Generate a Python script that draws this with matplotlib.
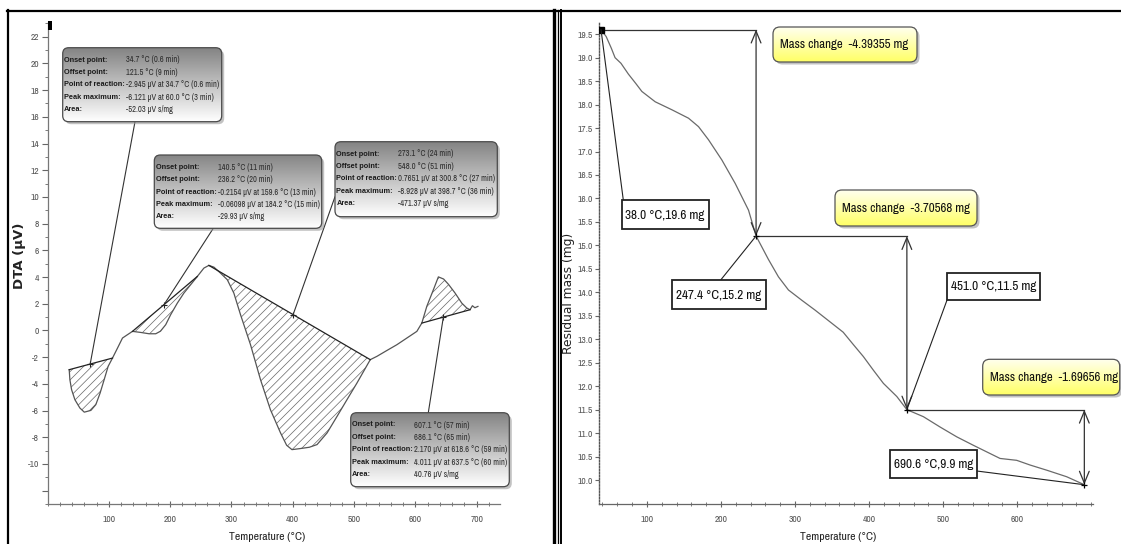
import matplotlib
matplotlib.use("Agg")

import matplotlib.pyplot as plt
import numpy as np
from matplotlib import font_manager
from matplotlib.colors import LinearSegmentedColormap
from matplotlib.lines import Line2D
from matplotlib.patches import ConnectionPatch, FancyArrowPatch, FancyBboxPatch, Rectangle
from matplotlib.ticker import FixedLocator, FormatStrFormatter, MultipleLocator

W, H = 1121, 544


def is_bold(weight):
    if isinstance(weight, str):
        return weight in ("bold", "heavy", "black", "extra bold", "semibold", "demibold")
    return weight >= 600


def narrow_font():
    # prefer a condensed face if one is installed, otherwise Liberation Sans
    fonts = font_manager.fontManager.ttflist
    for f in fonts:
        if "Narrow" in f.name or "Condensed" in f.name:
            has_bold = any(g.name == f.name and is_bold(g.weight) for g in fonts)
            return {"family": f.name}, has_bold
    for f in fonts:
        st = f.stretch
        if (isinstance(st, str) and "condensed" in st) or (isinstance(st, int) and st < 500):
            has_bold = any(g.name == f.name and g.stretch == st and is_bold(g.weight)
                           for g in fonts)
            return {"family": f.name, "stretch": st}, has_bold
    return {"family": "Liberation Sans"}, True


NARROW, narrow_has_bold = narrow_font()
NARROW_BOLD = NARROW if narrow_has_bold else {"family": "Liberation Sans"}

# ---- DTA curve (temperature in deg C, signal in uV)
dta_temp = [35.4, 36.5, 39.3, 44.7, 52.8, 60.0, 70.7, 78.8, 85.8, 92.4, 98.9, 106.0,
            114.2, 122.3, 130.4, 138.6, 152.0, 165.6, 176.5, 184.2, 192.8, 200.9, 211.8,
            222.5, 233.4, 244.3, 255.1, 263.2, 271.4, 282.0, 293.2, 303.9, 314.8, 331.1,
            347.4, 363.6, 379.9, 390.0, 398.7, 412.0, 427.0, 439.6, 455.9, 472.2, 488.4,
            504.7, 526.4, 537.3, 553.6, 569.8, 586.1, 602.4, 610.5, 618.6, 629.4, 637.5,
            646.0, 654.0, 664.7, 675.6, 683.7, 689.1, 693.0, 697.0, 702.0]
dta_signal = [-2.94, -3.69, -4.44, -5.19, -5.81, -6.121, -5.99, -5.56, -4.69, -3.69, -2.69, -2.07,
              -1.32, -0.57, -0.32, -0.07, -0.15, -0.25, -0.25, -0.061, 0.43, 1.18, 2.05,
              2.80, 3.42, 4.04, 4.67, 4.87, 4.74, 4.30, 3.80, 2.80, 1.18, -1.07,
              -3.69, -5.94, -7.66, -8.60, -8.928, -8.85, -8.75, -8.55, -7.68, -6.44, -5.19,
              -3.94, -2.19, -1.94, -1.50, -1.07, -0.57, -0.07, 0.55, 1.80, 3.05, 4.011,
              3.85, 3.45, 2.80, 2.05, 1.68, 1.55, 1.85, 1.70, 1.80]

# integration limits of the four peaks and where the leader lines touch the baseline
peak_start = [35.4, 138.6, 263.2, 610.5]
peak_end = [106.0, 244.3, 526.4, 689.1]
leader_temp = [69.6, 190.0, 400.6, 645.6]

peak_info = [
    [("Onset point:", "34.7 °C (0.6 min)"),
     ("Offset point:", "121.5 °C (9 min)"),
     ("Point of reaction:", "-2.945 µV at 34.7 °C (0.6 min)"),
     ("Peak maximum:", "-6.121 µV at 60.0 °C (3 min)"),
     ("Area:", "-52.03 µV s/mg")],
    [("Onset point:", "140.5 °C (11 min)"),
     ("Offset point:", "236.2 °C (20 min)"),
     ("Point of reaction:", "-0.2154 µV at 159.6 °C (13 min)"),
     ("Peak maximum:", "-0.06098 µV at 184.2 °C (15 min)"),
     ("Area:", "-29.93 µV s/mg")],
    [("Onset point:", "273.1 °C (24 min)"),
     ("Offset point:", "548.0 °C (51 min)"),
     ("Point of reaction:", "0.7651 µV at 300.8 °C (27 min)"),
     ("Peak maximum:", "-8.928 µV at 398.7 °C (36 min)"),
     ("Area:", "-471.37 µV s/mg")],
    [("Onset point:", "607.1 °C (57 min)"),
     ("Offset point:", "686.1 °C (65 min)"),
     ("Point of reaction:", "2.170 µV at 618.6 °C (59 min)"),
     ("Peak maximum:", "4.011 µV at 637.5 °C (60 min)"),
     ("Area:", "40.76 µV s/mg")],
]

# ---- TGA curve (temperature in deg C, residual mass in mg)
tga_temp = [38.0, 45.0, 52.0, 57.0, 65.0, 75.0, 85.0, 93.2, 111.2, 133.7, 156.2, 169.7,
            183.2, 201.2, 219.2, 237.2, 247.4, 264.1, 277.6, 291.1, 309.2, 327.1, 349.7,
            365.0, 378.0, 392.3, 405.8, 419.3, 437.4, 451.0, 473.3, 495.8, 518.4, 540.8,
            558.8, 576.8, 599.3, 617.3, 639.8, 666.8, 690.6]
tga_mass = [19.60, 19.45, 19.20, 19.00, 18.88, 18.65, 18.45, 18.28, 18.06, 17.89, 17.71, 17.53,
            17.25, 16.82, 16.32, 15.75, 15.20, 14.70, 14.33, 14.05, 13.83, 13.62, 13.34,
            13.15, 12.90, 12.63, 12.34, 12.06, 11.78, 11.50, 11.35, 11.13, 10.92, 10.74,
            10.60, 10.46, 10.42, 10.32, 10.21, 10.07, 9.90]

step_temp = [38.0, 247.4, 451.0, 690.6]
step_mass = [19.6, 15.2, 11.5, 9.9]
mass_change = [-4.39355, -3.70568, -1.69656]

fig = plt.figure(figsize=(W / 100, H / 100), dpi=100)
fig.patch.set_facecolor("white")
renderer = fig.canvas.get_renderer()


def px_axes(left, top, right, bottom):
    return fig.add_axes([left / W, 1 - bottom / H, (right - left) / W, (bottom - top) / H])


def style_ticks(ax):
    for lab in ax.get_xticklabels() + ax.get_yticklabels():
        lab.set_fontproperties(font_manager.FontProperties(size=6.8, **NARROW))
        lab.set_color("#555555")


def fit_width(texts, width):
    # shrink a group of texts together so the widest one fits the given pixel width
    widest = max(t.get_window_extent(renderer).width for t in texts)
    if widest > width:
        k = width / widest
        for t in texts:
            t.set_fontsize(t.get_fontsize() * k)


# ---------------- left: DTA ----------------
ax1 = px_axes(47.5, 22, 500, 504)
ax1.set_xlim(0, 738)
ax1.set_ylim(-13, 23.1)
for s in ("top", "right"):
    ax1.spines[s].set_visible(False)
for s in ("left", "bottom"):
    ax1.spines[s].set_color("#777777")
    ax1.spines[s].set_linewidth(0.9)

ax1.plot(dta_temp, dta_signal, color="#555555", lw=0.9, zorder=3)

plt.rcParams["hatch.linewidth"] = 0.5
plt.rcParams["hatch.color"] = "#555555"
base_at = []
for t0, t1 in zip(peak_start, peak_end):
    v0 = np.interp(t0, dta_temp, dta_signal)
    v1 = np.interp(t1, dta_temp, dta_signal)
    tt = np.linspace(t0, t1, 200)
    curve = np.interp(tt, dta_temp, dta_signal)
    base = np.interp(tt, [t0, t1], [v0, v1])
    ax1.fill_between(tt, curve, base, facecolor="none", edgecolor="#666666",
                     hatch="////", linewidth=0, zorder=2)
    ax1.plot([t0, t1], [v0, v1], color="#222222", lw=0.9, zorder=3)
    base_at.append((t0, t1, v0, v1))

leader_pts = []
for lt, (t0, t1, v0, v1) in zip(leader_temp, base_at):
    lv = np.interp(lt, [t0, t1], [v0, v1])
    leader_pts.append((lt, lv))
    ax1.plot(lt, lv, marker="+", ms=5, mew=0.8, color="#222222", zorder=4)

ax1.xaxis.set_major_locator(FixedLocator([100, 200, 300, 400, 500, 600, 700]))
ax1.xaxis.set_minor_locator(MultipleLocator(20))
ax1.yaxis.set_major_locator(FixedLocator(list(range(-12, 23, 2))))
ax1.yaxis.set_minor_locator(MultipleLocator(1))
ax1.set_yticklabels(["" if v == -12 else str(v) for v in range(-12, 23, 2)])
ax1.tick_params(axis="x", which="both", direction="inout", colors="#666666", pad=6)
ax1.tick_params(axis="x", which="major", length=4)
ax1.tick_params(axis="x", which="minor", length=3)
ax1.tick_params(axis="y", which="both", direction="out", colors="#666666", pad=2)
ax1.tick_params(axis="y", which="major", length=4)
ax1.tick_params(axis="y", which="minor", length=2)
style_ticks(ax1)

# ---------------- right: TGA ----------------
ax2 = px_axes(599.5, 22, 1093, 503.5)
ax2.set_xlim(36, 702.3)
ax2.set_ylim(9.5, 19.76)
for s in ("top", "right"):
    ax2.spines[s].set_visible(False)
ax2.spines["bottom"].set_color("#666666")
ax2.spines["bottom"].set_linewidth(0.9)
ax2.spines["left"].set_color("#555555")
ax2.spines["left"].set_linewidth(1.0)
ax2.spines["left"].set_linestyle((0, (1, 1.2)))

ax2.plot(tga_temp, tga_mass, color="#6a6a6a", lw=0.9, zorder=3)

# mass-change brackets: horizontal from each step point, vertical double arrow at the next
for i in range(3):
    ax2.plot([step_temp[i], step_temp[i + 1]], [step_mass[i], step_mass[i]],
             color="#333333", lw=0.9, zorder=3)
    ax2.add_patch(FancyArrowPatch((step_temp[i + 1], step_mass[i]),
                                  (step_temp[i + 1], step_mass[i + 1]),
                                  arrowstyle="<->,head_length=0.85,head_width=0.35",
                                  mutation_scale=10, shrinkA=0, shrinkB=0,
                                  color="#333333", lw=0.9, zorder=3))
ax2.plot(step_temp[0], step_mass[0], marker="s", ms=5, color="black", zorder=5)
ax2.plot(step_temp[1:], step_mass[1:], ls="none", marker="+", ms=5, mew=0.9,
         color="black", zorder=5)

ax2.xaxis.set_major_locator(FixedLocator([100, 200, 300, 400, 500, 600]))
ax2.xaxis.set_minor_locator(MultipleLocator(20))
ax2.yaxis.set_major_locator(FixedLocator(list(np.arange(10.0, 19.51, 0.5))))
ax2.yaxis.set_major_formatter(FormatStrFormatter("%.1f"))
ax2.tick_params(axis="x", which="both", direction="inout", colors="#666666", pad=6)
ax2.tick_params(axis="x", which="major", length=4)
ax2.tick_params(axis="x", which="minor", length=3)
ax2.tick_params(axis="y", which="major", direction="out", length=3, colors="#666666", pad=2)
style_ticks(ax2)

# ---------------- overlay in pixel coordinates ----------------
ov = fig.add_axes([0, 0, 1, 1], zorder=10)
ov.set_facecolor("none")
ov.axis("off")
ov.set_xlim(0, W)
ov.set_ylim(H, 0)


def gradient_box(x, y, w, h, top_col, bot_col, edge, radius=6):
    shadow = FancyBboxPatch((x + 2.5, y + 2.5), w, h,
                            boxstyle=f"round,pad=0,rounding_size={radius}",
                            fc="#9a9a9a", ec="none", alpha=0.6, zorder=1)
    ov.add_patch(shadow)
    box = FancyBboxPatch((x, y), w, h, boxstyle=f"round,pad=0,rounding_size={radius}",
                         fc="none", ec=edge, lw=0.9, zorder=3)
    ov.add_patch(box)
    cmap = LinearSegmentedColormap.from_list("g", [top_col, bot_col])
    grad = np.linspace(0, 1, 64).reshape(-1, 1)
    im = ov.imshow(grad, cmap=cmap, extent=(x, x + w, y + h, y), origin="upper",
                   aspect="auto", zorder=2, interpolation="bilinear")
    im.set_clip_path(box)


def plain_box(x, y, w, h, text):
    ov.add_patch(Rectangle((x, y), w, h, fc="white", ec="#222222", lw=1.3, zorder=3))
    t = ov.text(x + 3.5, y + h / 2 + 0.5, text, fontsize=9.5,
                color="#111111", va="center", ha="left", zorder=4, **NARROW)
    fit_width([t], w - 6)


def leader(ax, pt, xy, color="#333333"):
    fig.add_artist(ConnectionPatch(xyA=pt, coordsA=ax.transData, xyB=xy,
                                   coordsB=ov.transData, color=color, lw=0.8, zorder=9))


# DTA result boxes: (left, top, width, height) and leader attach point
dta_boxes = [(62.7, 47.7, 159.0, 74.0), (154.3, 155.0, 167.4, 73.3),
             (335.0, 141.7, 162.3, 75.0), (350.7, 412.7, 158.6, 74.0)]
dta_attach = [(135.0, 121.7), (213.3, 228.3), (335.0, 196.7), (428.3, 412.7)]
label_texts = []
for (bx, by, bw, bh), rows, att, pt in zip(dta_boxes, peak_info, dta_attach, leader_pts):
    gradient_box(bx, by, bw, bh, "#858585", "#ffffff", "#4a4a4a")
    values = []
    for k, (lab, val) in enumerate(rows):
        yy = by + 12.3 + k * 12.4
        label_texts.append(ov.text(bx + 1.5, yy, lab, fontsize=7.2, weight="bold",
                                   color="#1a1a1a", va="center", ha="left", zorder=4,
                                   **NARROW_BOLD))
        values.append(ov.text(bx + 63.5, yy, val, fontsize=7.2,
                              color="#2e2e2e", va="center", ha="left", zorder=4,
                              **NARROW))
    fit_width(values, bw - 66)
    leader(ax1, pt, att)
fit_width(label_texts, 61)

# TGA step labels
step_boxes = [(621.7, 200.0, 87.3, 29.3), (672.3, 280.0, 93.4, 29.3),
              (947.3, 272.7, 92.7, 27.3), (890.0, 450.0, 86.7, 28.3)]
step_attach = [(623.3, 200.0), (720.7, 280.0), (947.3, 299.3), (976.7, 471.0)]
for (bx, by, bw, bh), att, t, m in zip(step_boxes, step_attach, step_temp, step_mass):
    leader(ax2, (t, m), att, color="#222222")
    plain_box(bx, by, bw, bh, f"{t:.1f} °C,{m:.1f} mg")

mc_boxes = [(773.0, 27.0, 144.0, 35.0), (835.0, 190.0, 142.0, 36.0),
            (982.7, 359.3, 137.0, 35.7)]
mc_texts = []
for (bx, by, bw, bh), dm in zip(mc_boxes, mass_change):
    gradient_box(bx, by, bw, bh, "#ffffee", "#ffff66", "#555555", radius=7)
    mc_texts.append(ov.text(bx + 7, by + bh / 2 + 0.5, f"Mass change  {dm:.5f} mg",
                            fontsize=10, color="#111111", va="center", ha="left",
                            zorder=4, **NARROW))
fit_width(mc_texts, 128)

# axis titles
ov.text(20, 256, "DTA (µV)", rotation=90, fontsize=9.5, weight="bold",
        color="#222222", ha="center", va="center")
ov.text(568.5, 293, "Residual mass (mg)", rotation=90, fontsize=8.8,
        color="#222222", ha="center", va="center")
xt = [ov.text(267, 537, "Temperature (°C)", fontsize=9, color="#222222",
              ha="center", va="center", **NARROW),
      ov.text(838, 537, "Temperature (°C)", fontsize=9, color="#222222",
              ha="center", va="center", **NARROW)]
fit_width(xt, 76)

# small marker at the top of the DTA axis
ov.add_patch(Rectangle((48, 21), 3.5, 8.5, fc="black", ec="none"))

# panel frames
for xs, ys, lw in [((7, W), (10.5, 10.5), 1.6), ((8, 8), (10, H), 1.6),
                   ((554, 554), (10, H), 2.4), ((557.5, 557.5), (10, H), 0.9),
                   ((561, 561), (10, H), 1.4)]:
    ov.add_line(Line2D(xs, ys, color="black", lw=lw))

ov.set_xlim(0, W)
ov.set_ylim(H, 0)

fig.savefig("out.png", dpi=100)
plt.close(fig)
